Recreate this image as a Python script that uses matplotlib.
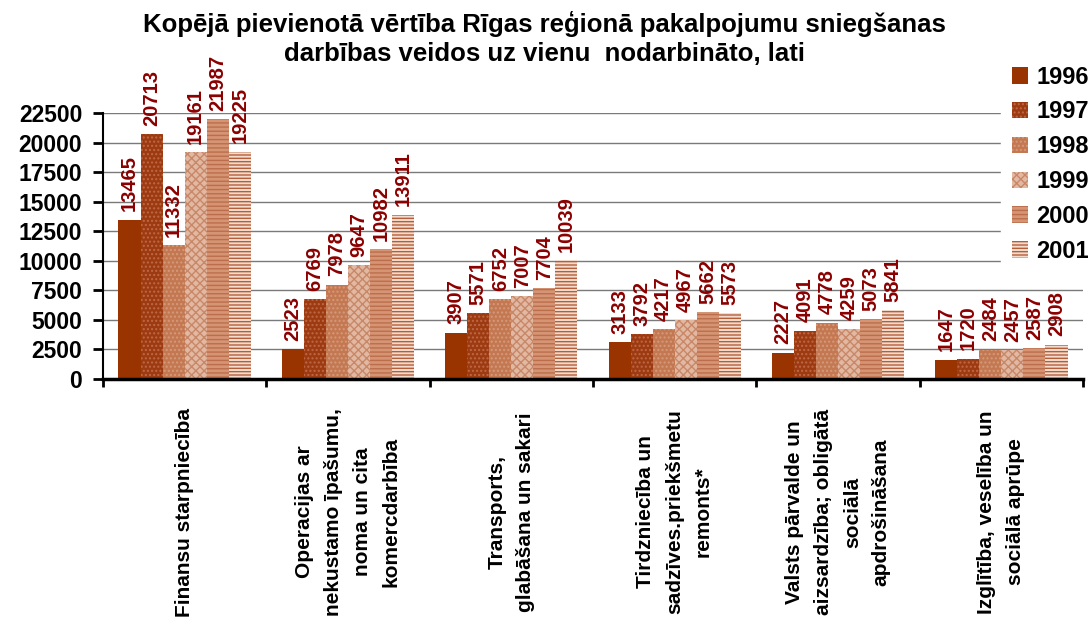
import matplotlib.pyplot as plt
from matplotlib.patches import Patch
import numpy as np

plt.rcParams['font.family'] = ['Liberation Sans', 'DejaVu Sans']
plt.rcParams['hatch.linewidth'] = 1.0

categories = [
    "Finansu starpniecība",
    "Operacijas ar\nnekustamo īpašumu,\nnoma un cita\nkomercdarbība",
    "Transports,\nglabāšana un sakari",
    "Tirdzniecība un\nsadzīves.priekšmetu\nremonts*",
    "Valsts pārvalde un\naizsardzība; obligātā\nsociālā\napdrošināšana",
    "Izglītība, veselība un\nsociālā aprūpe",
]
years = ["1996", "1997", "1998", "1999", "2000", "2001"]

v1996 = [13465, 2523, 3907, 3133, 2227, 1647]
v1997 = [20713, 6769, 5571, 3792, 4091, 1720]
v1998 = [11332, 7978, 6752, 4217, 4778, 2484]
v1999 = [19161, 9647, 7007, 4967, 4259, 2457]
v2000 = [21987, 10982, 7704, 5662, 5073, 2587]
v2001 = [19225, 13911, 10039, 5573, 5841, 2908]
series = [v1996, v1997, v1998, v1999, v2000, v2001]

# face colour, hatch, hatch colour
styles = [
    ("#993300", None, "#993300"),
    ("#9C3A12", "....", "#C06844"),
    ("#C47852", "....", "#D49A7A"),
    ("#E2B8A2", "xxxx", "#C88868"),
    ("#D59474", "----", "#BC6E4C"),
    ("#F3DCCD", "-----", "#B45E3A"),
]

fig = plt.figure(figsize=(10.92, 6.3), dpi=100)
ax = fig.add_axes([0.0943, 0.3984, 0.8975, 0.4222])

x = np.arange(len(categories))
w = 0.135
for i, vals in enumerate(series):
    fc, hatch, hc = styles[i]
    pos = x + (i - 2.5) * w
    ax.bar(pos, vals, width=w, color=fc, hatch=hatch, edgecolor=hc,
           linewidth=0, zorder=2)
    for px, v in zip(pos, vals):
        ax.annotate(str(v), (px, v), xytext=(0, 6), textcoords="offset points",
                    rotation=90, ha="center", va="bottom", fontsize=14.5,
                    fontweight="bold", color="#8B0000", annotation_clip=False)

ax.set_xlim(-0.5, len(categories) - 0.5)
ax.set_ylim(0, 22500)
ax.set_yticks(np.arange(0, 22501, 2500))
ax.tick_params(axis="y", labelsize=16.5, width=2, length=7, pad=8,
               direction="out")
for lab in ax.get_yticklabels():
    lab.set_fontweight("bold")
ax.set_xticks(np.arange(-0.5, len(categories), 1.0))
ax.set_xticklabels([])
ax.tick_params(axis="x", width=2, length=6)
ax.yaxis.grid(True, color="#7a7a7a", linewidth=1)
ax.set_axisbelow(True)
ax.spines["top"].set_visible(False)
ax.spines["right"].set_visible(False)
ax.spines["left"].set_linewidth(1.5)
ax.spines["bottom"].set_linewidth(2.5)

for i, cat in enumerate(categories):
    ax.text(i, -0.5, cat, transform=ax.get_xaxis_transform(), rotation=90,
            ha="center", va="center", multialignment="center",
            fontsize=15, fontweight="bold", linespacing=1.65)

fig.text(0.499, 1 - 11 / 630,
         "Kopējā pievienotā vērtība Rīgas reģionā pakalpojumu sniegšanas\n"
         "darbības veidos uz vienu  nodarbināto, lati",
         ha="center", va="top", fontsize=18.5, fontweight="bold", linespacing=1.25)

handles = [Patch(facecolor=s[0], hatch=s[1], edgecolor=s[2], linewidth=0)
           for s in styles]
leg = fig.legend(handles, years, loc="upper left",
                 bbox_to_anchor=(1001 / 1092, 1 - 55 / 630),
                 frameon=True, fancybox=False, edgecolor="white", framealpha=1,
                 prop={"size": 17, "weight": "bold"}, handlelength=0.7,
                 handleheight=0.7, handletextpad=0.35, labelspacing=0.5,
                 borderpad=0.45, borderaxespad=0)

fig.savefig("out.png", dpi=100)
